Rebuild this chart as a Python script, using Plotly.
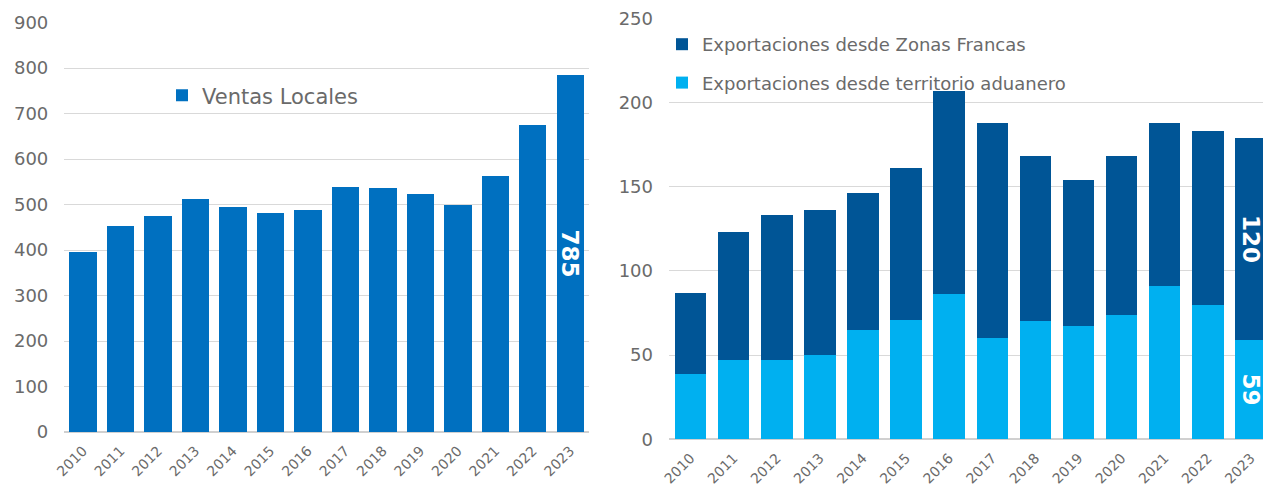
import plotly.graph_objects as go

years = [str(y) for y in range(2010, 2024)]
ventas_locales = [396, 453, 475, 512, 494, 481, 489, 538, 537, 523, 498, 563, 675, 785]
exp_territorio = [39, 47, 47, 50, 65, 71, 86, 60, 70, 67, 74, 91, 80, 59]
exp_zonas_francas = [48, 76, 86, 86, 81, 90, 121, 128, 98, 87, 94, 97, 103, 120]

FONT = "DejaVu Sans"
GREY = "#6a6a6a"

def last_only(vals):
    return [""] * (len(vals) - 1) + [str(vals[-1])]

label_font = dict(family=FONT, size=23, color="white", weight="bold")

fig = go.Figure()

fig.add_trace(go.Bar(
    x=years, y=ventas_locales, name="Ventas Locales",
    marker=dict(color="#0070C0", line=dict(width=0)),
    text=last_only(ventas_locales), textposition="inside", textangle=90,
    insidetextanchor="middle", constraintext="none", cliponaxis=False,
    textfont=label_font,
    xaxis="x", yaxis="y", legend="legend",
))

fig.add_trace(go.Bar(
    x=years, y=exp_territorio, name="Exportaciones desde territorio aduanero",
    marker=dict(color="#00B0F0", line=dict(width=0)),
    text=last_only(exp_territorio), textposition="inside", textangle=90,
    insidetextanchor="middle", constraintext="none", cliponaxis=False,
    textfont=label_font, legendrank=2, legendgroup="t",
    xaxis="x2", yaxis="y2", legend="legend2",
))
fig.add_trace(go.Bar(
    x=years, y=exp_zonas_francas, name="Exportaciones desde Zonas Francas",
    marker=dict(color="#005596", line=dict(width=0)),
    text=last_only(exp_zonas_francas), textposition="inside", textangle=90,
    insidetextanchor="middle", constraintext="none", cliponaxis=False,
    textfont=label_font, legendrank=1, legendgroup="z",
    xaxis="x2", yaxis="y2", legend="legend2",
))

W, H = 1263, 486
xaxis_common = dict(
    type="category", tickangle=-45, showgrid=False, ticks="",
    tickfont=dict(family=FONT, size=14, color=GREY), showline=False,
    zeroline=False, automargin=False, ticklabelstandoff=7,
)
yaxis_common = dict(
    showgrid=True, gridcolor="#d9d9d9", gridwidth=1, ticks="",
    tickfont=dict(family=FONT, size=18, color=GREY),
    zeroline=True, zerolinecolor="#d0d0d0", zerolinewidth=2,
    showline=False, ticklabelstandoff=15, automargin=False,
)

fig.update_layout(
    width=W, height=H,
    margin=dict(l=0, r=0, t=0, b=0),
    paper_bgcolor="white", plot_bgcolor="white",
    barmode="stack", bargap=0.27,
    font=dict(family=FONT, color=GREY),
    xaxis=dict(**xaxis_common, domain=[64.3 / W, 589 / W], anchor="y",
               range=[-0.5, 13.5]),
    yaxis=dict(**yaxis_common, domain=[1 - 432 / H, 1 - 22.5 / H], anchor="x",
               range=[0, 900], dtick=100),
    xaxis2=dict(**xaxis_common, domain=[669 / W, 1.0], anchor="y2",
                range=[-0.5, 13.28]),
    yaxis2=dict(**yaxis_common, domain=[1 - 439.3 / H, 1 - 18.3 / H], anchor="x2",
                range=[0, 250], dtick=50),
    legend=dict(x=162 / W, y=1 - 95.7 / H, xanchor="left", yanchor="middle",
                bgcolor="rgba(0,0,0,0)",
                font=dict(family=FONT, size=21, color=GREY)),
    legend2=dict(x=662 / W, y=1 - 63.5 / H, xanchor="left", yanchor="middle",
                 bgcolor="rgba(0,0,0,0)", traceorder="grouped",
                 tracegroupgap=12,
                 font=dict(family=FONT, size=18, color=GREY)),
    showlegend=True,
)

fig.write_html("out.html",
               config={"displayModeBar": False},
               post_script="document.body.style.margin='0px';document.body.style.overflow='hidden';")
